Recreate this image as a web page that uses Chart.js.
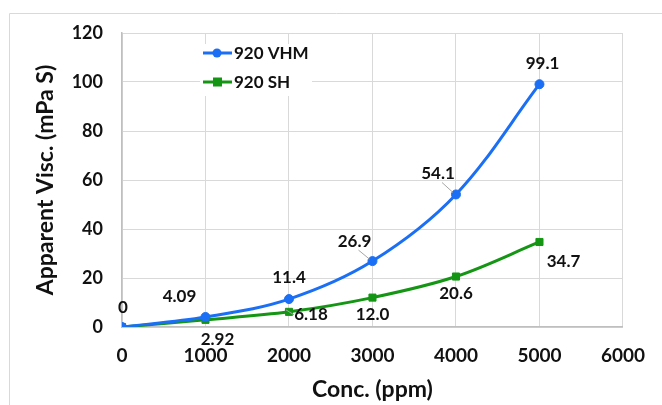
<!DOCTYPE html>
<html>
<head>
<meta charset="utf-8">
<script src="https://cdn.jsdelivr.net/npm/chart.js@4/dist/chart.umd.min.js"></script>
<style>
  html, body { margin: 0; padding: 0; background: #fff; }
  #wrap { width: 662px; height: 405px; position: relative; }
</style>
</head>
<body>
<div id="wrap"><canvas id="myChart" width="662" height="405"></canvas></div>
<script>
// values
const conc = [0, 1000, 2000, 3000, 4000, 5000];
const vhm = [0, 4.09, 11.4, 26.9, 54.1, 99.1];
const sh = [0, 2.92, 6.18, 12.0, 20.6, 34.7];
const vhmLabels = ["0", "4.09", "11.4", "26.9", "54.1", "99.1"];
const shLabels = ["", "2.92", "6.18", "12.0", "20.6", "34.7"];
const seriesNames = ["920 VHM", "920 SH"];

const blue = "#1a6ff5";
const green = "#149614";
const fontFam = "Lato, 'Open Sans', sans-serif";

// label offsets from the point (px), third item = draw a leader line
const vhmOffsets = [[1,-19],[-26,-20],[0,-22],[-18,-20,1],[-18,-21,1],[3,-21]];
const shOffsets = [[0,0],[12,20],[22,3,1],[0,17],[0,17],[24,20]];

const labelPlugin = {
  id: "pointLabels",
  afterDatasetsDraw(chart) {
    const ctx = chart.ctx;
    ctx.save();
    ctx.font = "bold 17px " + fontFam;
    ctx.fillStyle = "#111";
    ctx.textAlign = "center";
    ctx.textBaseline = "middle";
    const sets = [[vhmLabels, vhmOffsets], [shLabels, shOffsets]];
    sets.forEach((s, di) => {
      const meta = chart.getDatasetMeta(di);
      meta.data.forEach((pt, i) => {
        const txt = s[0][i];
        if (!txt) return;
        const off = s[1][i];
        const lx = pt.x + off[0], ly = pt.y + off[1];
        if (off[2]) {
          ctx.strokeStyle = "#a6a6a6";
          ctx.lineWidth = 1;
          ctx.beginPath();
          ctx.moveTo(lx + (off[0] < 0 ? 4 : -17), ly + (off[1] < 0 ? 9 : 0));
          ctx.lineTo(pt.x - 3, pt.y - 2);
          ctx.stroke();
        }
        ctx.fillText(txt, lx, ly);
      });
    });
    ctx.restore();
  }
};

const legendPlugin = {
  id: "innerLegend",
  afterDatasetsDraw(chart) {
    const ctx = chart.ctx;
    ctx.save();
    ctx.fillStyle = "#fff";
    ctx.fillRect(200, 44, 112, 52);
    const items = [[blue, "circle", 53], [green, "rect", 82]];
    items.forEach((it, i) => {
      ctx.strokeStyle = it[0];
      ctx.fillStyle = it[0];
      ctx.lineWidth = 3;
      ctx.beginPath();
      ctx.moveTo(203, it[2]);
      ctx.lineTo(232, it[2]);
      ctx.stroke();
      if (it[1] === "circle") {
        ctx.beginPath();
        ctx.arc(217, it[2], 4.5, 0, Math.PI * 2);
        ctx.fill();
      } else {
        ctx.fillRect(213, it[2] - 4.5, 9, 9);
      }
      ctx.fillStyle = "#111";
      ctx.font = "bold 17px " + fontFam;
      ctx.textBaseline = "middle";
      ctx.textAlign = "left";
      ctx.fillText(seriesNames[i], 234, it[2] + 1);
    });
    ctx.restore();
  }
};

const borderPlugin = {
  id: "outerBorder",
  beforeDraw(chart) {
    const ctx = chart.ctx;
    ctx.save();
    ctx.strokeStyle = "#d9d9d9";
    ctx.lineWidth = 1;
    ctx.beginPath();
    ctx.moveTo(9.5, 410);
    ctx.lineTo(9.5, 13.5);
    ctx.lineTo(670, 13.5);
    ctx.stroke();
    ctx.restore();
  }
};

new Chart("myChart", {
  type: "line",
  data: {
    datasets: [{
      label: seriesNames[0],
      data: conc.map((c, i) => ({x: c, y: vhm[i]})),
      borderColor: blue,
      backgroundColor: blue,
      borderWidth: 3,
      pointStyle: "circle",
      pointRadius: 4.5,
      pointBorderWidth: 1,
      tension: 0.35,
      fill: false
    }, {
      label: seriesNames[1],
      data: conc.map((c, i) => ({x: c, y: sh[i]})),
      borderColor: green,
      backgroundColor: green,
      borderWidth: 3,
      pointStyle: "rect",
      pointRadius: 5,
      pointBorderWidth: 1,
      tension: 0.35,
      fill: false
    }]
  },
  plugins: [borderPlugin, labelPlugin, legendPlugin],
  options: {
    responsive: false,
    animation: false,
    layout: {padding: {left: 0, right: 34, top: 33, bottom: 0}},
    plugins: {legend: {display: false}, tooltip: {enabled: false}},
    scales: {
      x: {
        type: "linear",
        min: 0, max: 6000,
        ticks: {stepSize: 1000, color: "#111", padding: 17, callback: v => String(v),
                font: {family: fontFam, size: 19, weight: "bold"}},
        grid: {color: "#d9d9d9", drawTicks: false},
        border: {color: "#bfbfbf", width: 1.5},
        title: {display: true, text: "Conc. (ppm)", color: "#111", padding: {top: 0, bottom: 2},
                font: {family: fontFam, size: 23, weight: "bold"}},
        afterFit(s) { s.height = 78; }
      },
      y: {
        min: 0, max: 120,
        ticks: {stepSize: 20, color: "#111", padding: 19, font: {family: fontFam, size: 18, weight: "bold"}},
        grid: {color: "#d9d9d9", drawTicks: false},
        border: {color: "#bfbfbf", width: 1.5},
        title: {display: true, text: "Apparent Visc. (mPa S)", color: "#111", padding: {top: 32, bottom: 0},
                font: {family: fontFam, size: 23, weight: "bold"}},
        afterFit(s) { s.width = 122; }
      }
    }
  }
});
</script>
</body>
</html>
